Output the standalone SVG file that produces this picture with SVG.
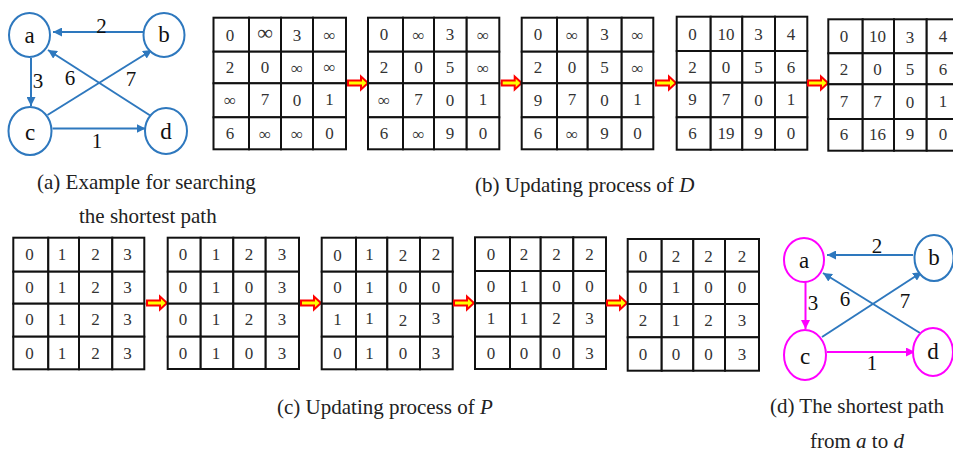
<svg xmlns="http://www.w3.org/2000/svg" xmlns:xlink="http://www.w3.org/1999/xlink" width="953" height="452" viewBox="0 0 953 452">
<style>
.cell{fill:#fff;stroke:#111;stroke-width:2}
.num{font-family:"Liberation Serif","Times New Roman",serif;font-size:17px;fill:#333;text-anchor:middle;dominant-baseline:central}
.cap{font-family:"Liberation Serif","Times New Roman",serif;font-size:21px;fill:#222}
.lbl{font-family:"Liberation Serif","Times New Roman",serif;font-size:21px;fill:#111;text-anchor:middle;dominant-baseline:central}
.nl{font-family:"Liberation Serif","Times New Roman",serif;font-size:23px;fill:#111;text-anchor:middle;dominant-baseline:central}
.nb{fill:#fff;stroke:#2E78BE;stroke-width:2}
.nm{fill:#fff;stroke:#FF00FF;stroke-width:2}
.eb{stroke:#2E78BE;stroke-width:2;fill:none}
.em{stroke:#FF00FF;stroke-width:2;fill:none}
.step{fill:#FFFF00;stroke:#FF0000;stroke-width:2;stroke-linejoin:miter}
</style>
<defs>
<marker id="ab" viewBox="0 0 10 10" refX="10" refY="5" markerWidth="4.5" markerHeight="4.5" orient="auto" markerUnits="strokeWidth"><path d="M0,0 L10,5 L0,10 Z" fill="#2E78BE"/></marker>
<marker id="am" viewBox="0 0 10 10" refX="10" refY="5" markerWidth="4.5" markerHeight="4.5" orient="auto" markerUnits="strokeWidth"><path d="M0,0 L10,5 L0,10 Z" fill="#FF00FF"/></marker>
<path id="st" class="step" d="M-20,-2.5 L-7,-2.5 L-7,-6.5 L0,0 L-7,6.5 L-7,2.5 L-20,2.5 Z"/>
</defs>

<!-- Graph (a) -->
<g id="graph-a">
<g id="connectors-a">
<line class="eb" x1="144" y1="32" x2="53" y2="32" marker-end="url(#ab)"/>
<line class="eb" x1="31" y1="58" x2="31" y2="106" marker-end="url(#ab)"/>
<line class="eb" x1="47.5" y1="115" x2="152" y2="50" marker-end="url(#ab)"/>
<line class="eb" x1="152.5" y1="117" x2="48" y2="50" marker-end="url(#ab)"/>
<line class="eb" x1="52.5" y1="128.5" x2="145.5" y2="128.5" marker-end="url(#ab)"/>
<text class="lbl" x="101.5" y="26">2</text>
<text class="lbl" x="38" y="81">3</text>
<text class="lbl" x="70" y="78">6</text>
<text class="lbl" x="131" y="79">7</text>
<text class="lbl" x="97" y="141">1</text>
</g>
<g id="na"><ellipse class="nb" cx="29.5" cy="35" rx="20.5" ry="22"/><text class="nl" x="29.5" y="35">a</text></g>
<g id="nb"><ellipse class="nb" cx="164" cy="35" rx="20.5" ry="22"/><text class="nl" x="164" y="34">b</text></g>
<g id="nc"><ellipse class="nb" cx="30" cy="131" rx="21.5" ry="24"/><text class="nl" x="30" y="132">c</text></g>
<g id="nd"><ellipse class="nb" cx="166" cy="131" rx="21" ry="23"/><text class="nl" x="166" y="131">d</text></g>
</g>

<!-- Graph (d) -->
<g id="graph-d">
<g id="connectors-d">
<line class="eb" x1="913" y1="255" x2="827" y2="255" marker-end="url(#ab)"/>
<line class="em" x1="805.5" y1="282" x2="805.5" y2="329" marker-end="url(#am)"/>
<line class="eb" x1="822" y1="337" x2="922" y2="272" marker-end="url(#ab)"/>
<line class="eb" x1="920" y1="333" x2="823" y2="273" marker-end="url(#ab)"/>
<line class="em" x1="827" y1="352" x2="915" y2="352" marker-end="url(#am)"/>
<text class="lbl" x="877" y="246">2</text>
<text class="lbl" x="813" y="303">3</text>
<text class="lbl" x="845" y="299">6</text>
<text class="lbl" x="905" y="301">7</text>
<text class="lbl" x="872" y="363">1</text>
</g>
<g id="da"><ellipse class="nm" cx="804" cy="260" rx="20" ry="22"/><text class="nl" x="804" y="260">a</text></g>
<g id="db"><ellipse class="nb" cx="934" cy="258" rx="19.5" ry="23"/><text class="nl" x="934" y="257">b</text></g>
<g id="dc"><ellipse class="nm" cx="805" cy="355" rx="21" ry="25"/><text class="nl" x="805" y="356">c</text></g>
<g id="dd"><ellipse class="nm" cx="933" cy="352" rx="20" ry="24"/><text class="nl" x="933" y="351">d</text></g>
</g>

<!-- D matrices -->
<g id="D1">
<rect class="cell" x="213.5" y="17.7" width="35.5" height="34"/><rect class="cell" x="249" y="17.7" width="32" height="34"/><rect class="cell" x="281" y="17.7" width="32" height="34"/><rect class="cell" x="313" y="17.7" width="33" height="34"/>
<rect class="cell" x="213.5" y="51.7" width="35.5" height="31.6"/><rect class="cell" x="249" y="51.7" width="32" height="31.6"/><rect class="cell" x="281" y="51.7" width="32" height="31.6"/><rect class="cell" x="313" y="51.7" width="33" height="31.6"/>
<rect class="cell" x="213.5" y="83.3" width="35.5" height="34"/><rect class="cell" x="249" y="83.3" width="32" height="34"/><rect class="cell" x="281" y="83.3" width="32" height="34"/><rect class="cell" x="313" y="83.3" width="33" height="34"/>
<rect class="cell" x="213.5" y="117.3" width="35.5" height="32"/><rect class="cell" x="249" y="117.3" width="32" height="32"/><rect class="cell" x="281" y="117.3" width="32" height="32"/><rect class="cell" x="313" y="117.3" width="33" height="32"/>
<text class="num" x="230" y="35">0</text><text class="num" x="265" y="32" style="font-size:22px">∞</text><text class="num" x="297" y="35">3</text><text class="num" x="329.5" y="35">∞</text>
<text class="num" x="230" y="67">2</text><text class="num" x="265" y="67">0</text><text class="num" x="297" y="68">∞</text><text class="num" x="329.5" y="67">∞</text>
<text class="num" x="230" y="100">∞</text><text class="num" x="265" y="99">7</text><text class="num" x="297" y="100">0</text><text class="num" x="329.5" y="99">1</text>
<text class="num" x="230" y="133">6</text><text class="num" x="265" y="134">∞</text><text class="num" x="297" y="134">∞</text><text class="num" x="329.5" y="133">0</text>
</g>
<use xlink:href="#st" href="#st" x="368" y="83"/>
<g id="D2">
<rect class="cell" x="368" y="17.7" width="35" height="34"/><rect class="cell" x="403" y="17.7" width="31" height="34"/><rect class="cell" x="434" y="17.7" width="32.7" height="34"/><rect class="cell" x="466.7" y="17.7" width="32.6" height="34"/>
<rect class="cell" x="368" y="51.7" width="35" height="31.6"/><rect class="cell" x="403" y="51.7" width="31" height="31.6"/><rect class="cell" x="434" y="51.7" width="32.7" height="31.6"/><rect class="cell" x="466.7" y="51.7" width="32.6" height="31.6"/>
<rect class="cell" x="368" y="83.3" width="35" height="34"/><rect class="cell" x="403" y="83.3" width="31" height="34"/><rect class="cell" x="434" y="83.3" width="32.7" height="34"/><rect class="cell" x="466.7" y="83.3" width="32.6" height="34"/>
<rect class="cell" x="368" y="117.3" width="35" height="32"/><rect class="cell" x="403" y="117.3" width="31" height="32"/><rect class="cell" x="434" y="117.3" width="32.7" height="32"/><rect class="cell" x="466.7" y="117.3" width="32.6" height="32"/>
<text class="num" x="384" y="34">0</text><text class="num" x="418.5" y="35">∞</text><text class="num" x="450" y="34">3</text><text class="num" x="483" y="35">∞</text>
<text class="num" x="384" y="67">2</text><text class="num" x="418.5" y="67">0</text><text class="num" x="450" y="67">5</text><text class="num" x="483" y="68">∞</text>
<text class="num" x="384" y="100">∞</text><text class="num" x="418.5" y="99">7</text><text class="num" x="450" y="100">0</text><text class="num" x="483" y="99">1</text>
<text class="num" x="384" y="133">6</text><text class="num" x="418.5" y="134">∞</text><text class="num" x="450" y="133">9</text><text class="num" x="483" y="133">0</text>
</g>
<use xlink:href="#st" href="#st" x="521.7" y="83"/>
<g id="D3">
<rect class="cell" x="521.7" y="17.7" width="35.3" height="34"/><rect class="cell" x="557" y="17.7" width="30.7" height="34"/><rect class="cell" x="587.7" y="17.7" width="34" height="34"/><rect class="cell" x="621.7" y="17.7" width="31.6" height="34"/>
<rect class="cell" x="521.7" y="51.7" width="35.3" height="31.6"/><rect class="cell" x="557" y="51.7" width="30.7" height="31.6"/><rect class="cell" x="587.7" y="51.7" width="34" height="31.6"/><rect class="cell" x="621.7" y="51.7" width="31.6" height="31.6"/>
<rect class="cell" x="521.7" y="83.3" width="35.3" height="34"/><rect class="cell" x="557" y="83.3" width="30.7" height="34"/><rect class="cell" x="587.7" y="83.3" width="34" height="34"/><rect class="cell" x="621.7" y="83.3" width="31.6" height="34"/>
<rect class="cell" x="521.7" y="117.3" width="35.3" height="32"/><rect class="cell" x="557" y="117.3" width="30.7" height="32"/><rect class="cell" x="587.7" y="117.3" width="34" height="32"/><rect class="cell" x="621.7" y="117.3" width="31.6" height="32"/>
<text class="num" x="538" y="34">0</text><text class="num" x="572" y="35">∞</text><text class="num" x="604.5" y="34">3</text><text class="num" x="637.5" y="35">∞</text>
<text class="num" x="538" y="67">2</text><text class="num" x="572" y="67">0</text><text class="num" x="604.5" y="67">5</text><text class="num" x="637.5" y="68">∞</text>
<text class="num" x="538" y="100">9</text><text class="num" x="572" y="99">7</text><text class="num" x="604.5" y="100">0</text><text class="num" x="637.5" y="99">1</text>
<text class="num" x="538" y="133">6</text><text class="num" x="572" y="134">∞</text><text class="num" x="604.5" y="133">9</text><text class="num" x="637.5" y="133">0</text>
</g>
<use xlink:href="#st" href="#st" x="676" y="83"/>
<g id="D4">
<rect class="cell" x="676.7" y="16.7" width="34" height="34.3"/><rect class="cell" x="710.7" y="16.7" width="31.6" height="34.3"/><rect class="cell" x="742.3" y="16.7" width="32.7" height="34.3"/><rect class="cell" x="775" y="16.7" width="32.3" height="34.3"/>
<rect class="cell" x="676.7" y="51" width="34" height="31.7"/><rect class="cell" x="710.7" y="51" width="31.6" height="31.7"/><rect class="cell" x="742.3" y="51" width="32.7" height="31.7"/><rect class="cell" x="775" y="51" width="32.3" height="31.7"/>
<rect class="cell" x="676.7" y="82.7" width="34" height="34.6"/><rect class="cell" x="710.7" y="82.7" width="31.6" height="34.6"/><rect class="cell" x="742.3" y="82.7" width="32.7" height="34.6"/><rect class="cell" x="775" y="82.7" width="32.3" height="34.6"/>
<rect class="cell" x="676.7" y="117.3" width="34" height="32.4"/><rect class="cell" x="710.7" y="117.3" width="31.6" height="32.4"/><rect class="cell" x="742.3" y="117.3" width="32.7" height="32.4"/><rect class="cell" x="775" y="117.3" width="32.3" height="32.4"/>
<text class="num" x="692.5" y="34">0</text><text class="num" x="726" y="34">10</text><text class="num" x="758.5" y="34">3</text><text class="num" x="791" y="34">4</text>
<text class="num" x="692.5" y="67">2</text><text class="num" x="726" y="67">0</text><text class="num" x="758.5" y="67">5</text><text class="num" x="791" y="67">6</text>
<text class="num" x="692.5" y="99">9</text><text class="num" x="726" y="99">7</text><text class="num" x="758.5" y="100">0</text><text class="num" x="791" y="99">1</text>
<text class="num" x="692.5" y="133">6</text><text class="num" x="726" y="133">19</text><text class="num" x="758.5" y="133">9</text><text class="num" x="791" y="133">0</text>
</g>
<use xlink:href="#st" href="#st" x="828" y="83"/>
<g id="D5">
<rect class="cell" x="828.3" y="19.3" width="34.4" height="34"/><rect class="cell" x="862.7" y="19.3" width="31.3" height="34"/><rect class="cell" x="894" y="19.3" width="32.7" height="34"/><rect class="cell" x="926.7" y="19.3" width="33.3" height="34"/>
<rect class="cell" x="828.3" y="53.3" width="34.4" height="31"/><rect class="cell" x="862.7" y="53.3" width="31.3" height="31"/><rect class="cell" x="894" y="53.3" width="32.7" height="31"/><rect class="cell" x="926.7" y="53.3" width="33.3" height="31"/>
<rect class="cell" x="828.3" y="84.3" width="34.4" height="34.7"/><rect class="cell" x="862.7" y="84.3" width="31.3" height="34.7"/><rect class="cell" x="894" y="84.3" width="32.7" height="34.7"/><rect class="cell" x="926.7" y="84.3" width="33.3" height="34.7"/>
<rect class="cell" x="828.3" y="119" width="34.4" height="31.7"/><rect class="cell" x="862.7" y="119" width="31.3" height="31.7"/><rect class="cell" x="894" y="119" width="32.7" height="31.7"/><rect class="cell" x="926.7" y="119" width="33.3" height="31.7"/>
<text class="num" x="844" y="36">0</text><text class="num" x="877.5" y="36">10</text><text class="num" x="910" y="37">3</text><text class="num" x="943" y="36">4</text>
<text class="num" x="844" y="69">2</text><text class="num" x="877.5" y="69">0</text><text class="num" x="910" y="69">5</text><text class="num" x="943" y="69">6</text>
<text class="num" x="844" y="101">7</text><text class="num" x="877.5" y="101">7</text><text class="num" x="910" y="102">0</text><text class="num" x="943" y="101">1</text>
<text class="num" x="844" y="134">6</text><text class="num" x="877.5" y="134">16</text><text class="num" x="910" y="134">9</text><text class="num" x="943" y="134">0</text>
</g>

<!-- P matrices -->
<g id="P1">
<rect class="cell" x="13.3" y="237.7" width="35" height="34"/><rect class="cell" x="48.3" y="237.7" width="30.7" height="34"/><rect class="cell" x="79" y="237.7" width="33.3" height="34"/><rect class="cell" x="112.3" y="237.7" width="32" height="34"/>
<rect class="cell" x="13.3" y="271.7" width="35" height="32"/><rect class="cell" x="48.3" y="271.7" width="30.7" height="32"/><rect class="cell" x="79" y="271.7" width="33.3" height="32"/><rect class="cell" x="112.3" y="271.7" width="32" height="32"/>
<rect class="cell" x="13.3" y="303.7" width="35" height="33"/><rect class="cell" x="48.3" y="303.7" width="30.7" height="33"/><rect class="cell" x="79" y="303.7" width="33.3" height="33"/><rect class="cell" x="112.3" y="303.7" width="32" height="33"/>
<rect class="cell" x="13.3" y="336.7" width="35" height="32.6"/><rect class="cell" x="48.3" y="336.7" width="30.7" height="32.6"/><rect class="cell" x="79" y="336.7" width="33.3" height="32.6"/><rect class="cell" x="112.3" y="336.7" width="32" height="32.6"/>
<text class="num" x="29.5" y="254">0</text><text class="num" x="62" y="254">1</text><text class="num" x="95.5" y="254">2</text><text class="num" x="127.5" y="254">3</text>
<text class="num" x="29.5" y="287">0</text><text class="num" x="62" y="287">1</text><text class="num" x="95.5" y="287">2</text><text class="num" x="127.5" y="287">3</text>
<text class="num" x="29.5" y="319">0</text><text class="num" x="62" y="319">1</text><text class="num" x="95.5" y="319">2</text><text class="num" x="127.5" y="319">3</text>
<text class="num" x="29.5" y="353">0</text><text class="num" x="62" y="353">1</text><text class="num" x="95.5" y="353">2</text><text class="num" x="127.5" y="353">3</text>
</g>
<use xlink:href="#st" href="#st" x="167" y="303"/>
<g id="P2">
<rect class="cell" x="167.7" y="237.7" width="33" height="34"/><rect class="cell" x="200.7" y="237.7" width="32.6" height="34"/><rect class="cell" x="233.3" y="237.7" width="32.4" height="34"/><rect class="cell" x="265.7" y="237.7" width="33.3" height="34"/>
<rect class="cell" x="167.7" y="271.7" width="33" height="32"/><rect class="cell" x="200.7" y="271.7" width="32.6" height="32"/><rect class="cell" x="233.3" y="271.7" width="32.4" height="32"/><rect class="cell" x="265.7" y="271.7" width="33.3" height="32"/>
<rect class="cell" x="167.7" y="303.7" width="33" height="33"/><rect class="cell" x="200.7" y="303.7" width="32.6" height="33"/><rect class="cell" x="233.3" y="303.7" width="32.4" height="33"/><rect class="cell" x="265.7" y="303.7" width="33.3" height="33"/>
<rect class="cell" x="167.7" y="336.7" width="33" height="32.3"/><rect class="cell" x="200.7" y="336.7" width="32.6" height="32.3"/><rect class="cell" x="233.3" y="336.7" width="32.4" height="32.3"/><rect class="cell" x="265.7" y="336.7" width="33.3" height="32.3"/>
<text class="num" x="183" y="254">0</text><text class="num" x="216" y="254">1</text><text class="num" x="249" y="254">2</text><text class="num" x="282" y="254">3</text>
<text class="num" x="183" y="287">0</text><text class="num" x="216" y="287">1</text><text class="num" x="249" y="287">0</text><text class="num" x="282" y="287">3</text>
<text class="num" x="183" y="319">0</text><text class="num" x="216" y="319">1</text><text class="num" x="249" y="319">2</text><text class="num" x="282" y="319">3</text>
<text class="num" x="183" y="353">0</text><text class="num" x="216" y="353">1</text><text class="num" x="249" y="353">0</text><text class="num" x="282" y="353">3</text>
</g>
<use xlink:href="#st" href="#st" x="321" y="303"/>
<g id="P3">
<rect class="cell" x="321.7" y="237.7" width="34.3" height="34"/><rect class="cell" x="356" y="237.7" width="31.3" height="34"/><rect class="cell" x="387.3" y="237.7" width="32.7" height="34"/><rect class="cell" x="420" y="237.7" width="32.7" height="34"/>
<rect class="cell" x="321.7" y="271.7" width="34.3" height="32"/><rect class="cell" x="356" y="271.7" width="31.3" height="32"/><rect class="cell" x="387.3" y="271.7" width="32.7" height="32"/><rect class="cell" x="420" y="271.7" width="32.7" height="32"/>
<rect class="cell" x="321.7" y="303.7" width="34.3" height="33"/><rect class="cell" x="356" y="303.7" width="31.3" height="33"/><rect class="cell" x="387.3" y="303.7" width="32.7" height="33"/><rect class="cell" x="420" y="303.7" width="32.7" height="33"/>
<rect class="cell" x="321.7" y="336.7" width="34.3" height="32.6"/><rect class="cell" x="356" y="336.7" width="31.3" height="32.6"/><rect class="cell" x="387.3" y="336.7" width="32.7" height="32.6"/><rect class="cell" x="420" y="336.7" width="32.7" height="32.6"/>
<text class="num" x="337.5" y="255">0</text><text class="num" x="369.5" y="254">1</text><text class="num" x="403" y="255">2</text><text class="num" x="436" y="254">2</text>
<text class="num" x="337.5" y="287">0</text><text class="num" x="369.5" y="287">1</text><text class="num" x="403" y="287">0</text><text class="num" x="436" y="287">0</text>
<text class="num" x="337.5" y="319">1</text><text class="num" x="369.5" y="318">1</text><text class="num" x="403" y="320">2</text><text class="num" x="436" y="318">3</text>
<text class="num" x="337.5" y="353">0</text><text class="num" x="369.5" y="353">1</text><text class="num" x="403" y="353">0</text><text class="num" x="436" y="353">3</text>
</g>
<use xlink:href="#st" href="#st" x="474" y="303"/>
<g id="P4">
<rect class="cell" x="475" y="237.3" width="35" height="33.7"/><rect class="cell" x="510" y="237.3" width="30.7" height="33.7"/><rect class="cell" x="540.7" y="237.3" width="32.6" height="33.7"/><rect class="cell" x="573.3" y="237.3" width="32.7" height="33.7"/>
<rect class="cell" x="475" y="271" width="35" height="32.3"/><rect class="cell" x="510" y="271" width="30.7" height="32.3"/><rect class="cell" x="540.7" y="271" width="32.6" height="32.3"/><rect class="cell" x="573.3" y="271" width="32.7" height="32.3"/>
<rect class="cell" x="475" y="303.3" width="35" height="33.4"/><rect class="cell" x="510" y="303.3" width="30.7" height="33.4"/><rect class="cell" x="540.7" y="303.3" width="32.6" height="33.4"/><rect class="cell" x="573.3" y="303.3" width="32.7" height="33.4"/>
<rect class="cell" x="475" y="336.7" width="35" height="32.3"/><rect class="cell" x="510" y="336.7" width="30.7" height="32.3"/><rect class="cell" x="540.7" y="336.7" width="32.6" height="32.3"/><rect class="cell" x="573.3" y="336.7" width="32.7" height="32.3"/>
<text class="num" x="491" y="254">0</text><text class="num" x="524" y="254">2</text><text class="num" x="556.5" y="254">2</text><text class="num" x="589.5" y="254">2</text>
<text class="num" x="491" y="286">0</text><text class="num" x="524" y="286">1</text><text class="num" x="556.5" y="286">0</text><text class="num" x="589.5" y="286">0</text>
<text class="num" x="491" y="318">1</text><text class="num" x="524" y="318">1</text><text class="num" x="556.5" y="318">2</text><text class="num" x="589.5" y="318">3</text>
<text class="num" x="491" y="353">0</text><text class="num" x="524" y="353">0</text><text class="num" x="556.5" y="353">0</text><text class="num" x="589.5" y="353">3</text>
</g>
<use xlink:href="#st" href="#st" x="627" y="303"/>
<g id="P5">
<rect class="cell" x="627.7" y="239" width="34" height="32.7"/><rect class="cell" x="661.7" y="239" width="31.6" height="32.7"/><rect class="cell" x="693.3" y="239" width="31.7" height="32.7"/><rect class="cell" x="725" y="239" width="34" height="32.7"/>
<rect class="cell" x="627.7" y="271.7" width="34" height="32.3"/><rect class="cell" x="661.7" y="271.7" width="31.6" height="32.3"/><rect class="cell" x="693.3" y="271.7" width="31.7" height="32.3"/><rect class="cell" x="725" y="271.7" width="34" height="32.3"/>
<rect class="cell" x="627.7" y="304" width="34" height="33.3"/><rect class="cell" x="661.7" y="304" width="31.6" height="33.3"/><rect class="cell" x="693.3" y="304" width="31.7" height="33.3"/><rect class="cell" x="725" y="304" width="34" height="33.3"/>
<rect class="cell" x="627.7" y="337.3" width="34" height="33.4"/><rect class="cell" x="661.7" y="337.3" width="31.6" height="33.4"/><rect class="cell" x="693.3" y="337.3" width="31.7" height="33.4"/><rect class="cell" x="725" y="337.3" width="34" height="33.4"/>
<text class="num" x="643" y="256">0</text><text class="num" x="676" y="256">2</text><text class="num" x="708.5" y="256">2</text><text class="num" x="742" y="256">2</text>
<text class="num" x="643" y="287">0</text><text class="num" x="676" y="287">1</text><text class="num" x="708.5" y="287">0</text><text class="num" x="742" y="287">0</text>
<text class="num" x="643" y="320">2</text><text class="num" x="676" y="320">1</text><text class="num" x="708.5" y="320">2</text><text class="num" x="742" y="320">3</text>
<text class="num" x="643" y="354">0</text><text class="num" x="676" y="354">0</text><text class="num" x="708.5" y="354">0</text><text class="num" x="742" y="354">3</text>
</g>

<!-- Captions -->
<text class="cap" x="37" y="189">(a) Example for searching</text>
<text class="cap" x="79" y="223">the shortest path</text>
<text class="cap" x="475" y="192">(b) Updating process of <tspan font-style="italic">D</tspan></text>
<text class="cap" x="277" y="414">(c) Updating process of <tspan font-style="italic">P</tspan></text>
<text class="cap" x="770" y="413">(d) The shortest path</text>
<text class="cap" x="810" y="448">from <tspan font-style="italic">a</tspan> to <tspan font-style="italic">d</tspan></text>
</svg>
